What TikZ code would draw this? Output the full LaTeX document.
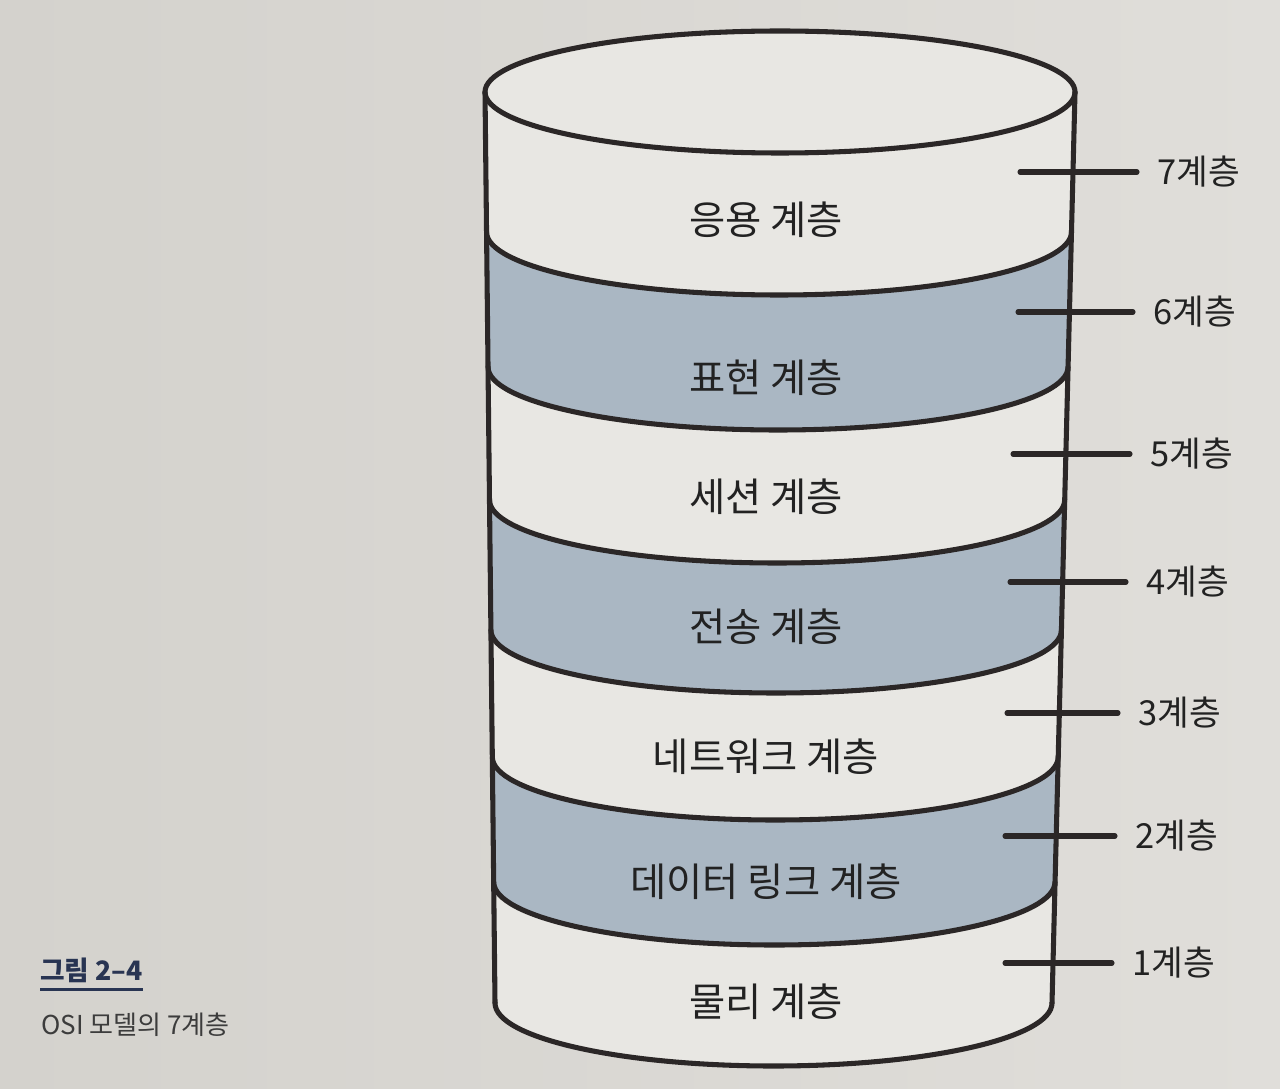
\documentclass[tikz,border=0pt]{standalone}
\usepackage{fontspec}
\setmainfont{Noto Sans CJK KR}
\definecolor{paperL}{HTML}{D4D2CD}
\definecolor{paperR}{HTML}{E0DEDA}
\definecolor{whitec}{HTML}{E8E7E3}
\definecolor{bandc}{HTML}{AAB7C3}
\definecolor{inkc}{HTML}{2B2727}
\definecolor{textc}{HTML}{222222}
\definecolor{navyc}{HTML}{283452}
\definecolor{subc}{HTML}{3C3C3C}
\begin{document}
\begin{tikzpicture}[x=0.025cm,y=-0.025cm,
  outline/.style={line width=3.6pt, draw=inkc, line cap=round, line join=round},
  layertext/.style={font=\fontsize{28}{33}\selectfont, text=textc},
  levellabel/.style={font=\fontsize{24.5}{29}\selectfont, text=textc, anchor=west, inner xsep=0.5cm, inner ysep=0pt},
  tickline/.style={line width=3.6pt, draw=inkc, line cap=round}]
% background
\useasboundingbox (0,0) rectangle (1280,1089);
\shade[left color=paperL, right color=paperR] (0,0) rectangle (1280,1089);

% cylinder body (white)
\fill[whitec] (780,92) ellipse[x radius=295, y radius=61];
\fill[whitec] (485,92) -- (1075,92) -- (1052,1003)
   arc[start angle=0, end angle=180, x radius=278.5, y radius=63] -- cycle;

% blue bands
\foreach \ya/\la/\ra/\yb/\lb/\rb in {232/486.5/1071.5/367/488/1068, 500/489.5/1064.7/630/490.9/1061.4, 757/492.3/1058.2/882/493.7/1055}{
  \fill[bandc] (\la,\ya) arc[start angle=180, end angle=0, x radius={(\ra-\la)/2}, y radius=63]
     -- (\rb,\yb) arc[start angle=0, end angle=180, x radius={(\rb-\lb)/2}, y radius=63] -- cycle;
}

% outlines
\draw[outline] (780,92) ellipse[x radius=295, y radius=61];
\draw[outline] (485,92) -- (495,1003);
\draw[outline] (1075,92) -- (1052,1003);
\foreach \y/\l/\r in {232/486.5/1071.5, 367/488/1068, 500/489.5/1064.7, 630/490.9/1061.4, 757/492.3/1058.2, 882/493.7/1055, 1003/495/1052}{
  \draw[outline] (\l,\y) arc[start angle=180, end angle=0, x radius={(\r-\l)/2}, y radius=63];
}

% layer names
\node[layertext] (n7) at (766,220) {응용 계층};
\node[layertext] (n6) at (766,378) {표현 계층};
\node[layertext] (n5) at (766,497) {세션 계층};
\node[layertext] (n4) at (766,627) {전송 계층};
\node[layertext] (n3) at (766,757) {네트워크 계층};
\node[layertext] (n2) at (766,882) {데이터 링크 계층};
\node[layertext] (n1) at (766,1002) {물리 계층};

% level labels and ticks
\node[levellabel] (l7) at (1137,172) {7계층};
\node[levellabel] (l6) at (1133,312) {6계층};
\node[levellabel] (l5) at (1130,454) {5계층};
\node[levellabel] (l4) at (1126,582) {4계층};
\node[levellabel] (l3) at (1118,713) {3계층};
\node[levellabel] (l2) at (1115,836) {2계층};
\node[levellabel] (l1) at (1112,963) {1계층};
\coordinate (c7) at (1020,172);
\coordinate (c6) at (1018,312);
\coordinate (c5) at (1013,454);
\coordinate (c4) at (1010,582);
\coordinate (c3) at (1007,713);
\coordinate (c2) at (1005,836);
\coordinate (c1) at (1005,963);
\foreach \i in {1,...,7}{\draw[tickline] (c\i) -- (l\i.west);}

% caption
\node[anchor=west, inner sep=0pt, font=\fontsize{19}{22}\selectfont\bfseries, text=navyc] (cap) at (40,970) {그림 2–4};
\draw[navyc, line width=2.6pt] ([yshift=-0.17cm]cap.south west) -- ([yshift=-0.17cm]cap.south east);
\node[anchor=west, inner sep=0pt, font=\fontsize{18.5}{22}\selectfont, text=subc] (capsub) at (41,1025) {OSI 모델의 7계층};
\end{tikzpicture}
\end{document}
